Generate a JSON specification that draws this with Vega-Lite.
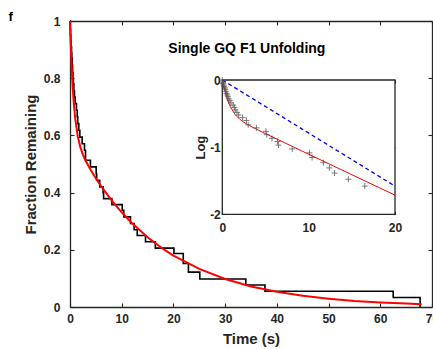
{
  "$schema": "https://vega.github.io/schema/vega-lite/v6.json",
  "width": 362,
  "height": 286,
  "autosize": {"type": "none"},
  "padding": {"left": 70, "top": 21, "right": 1, "bottom": 42},
  "background": "white",
  "config": {
    "view": {"stroke": null},
    "axis": {
      "grid": false,
      "labelFlush": false,
      "labelOverlap": false,
      "labelFont": "Liberation Sans",
      "titleFont": "Liberation Sans",
      "labelFontWeight": "bold",
      "titleFontWeight": "bold",
      "labelColor": "#262626",
      "titleColor": "#262626",
      "domainColor": "#262626",
      "tickColor": "#262626",
      "labelFontSize": 12,
      "titleFontSize": 15,
      "domainWidth": 1.3,
      "tickWidth": 1.1
    },
    "text": {"font": "Liberation Sans", "fontWeight": "bold", "color": "#000000"}
  },
  "datasets": {
    "steps": [
      {"t": 0, "f": 1.0}, {"t": 0.05, "f": 0.97}, {"t": 0.1, "f": 0.95}, {"t": 0.15, "f": 0.93},
      {"t": 0.2, "f": 0.91}, {"t": 0.3, "f": 0.89}, {"t": 0.35, "f": 0.87}, {"t": 0.42, "f": 0.845},
      {"t": 0.5, "f": 0.82}, {"t": 0.58, "f": 0.8}, {"t": 0.65, "f": 0.78}, {"t": 0.75, "f": 0.755},
      {"t": 0.87, "f": 0.734}, {"t": 1.0, "f": 0.711}, {"t": 1.25, "f": 0.688}, {"t": 1.4, "f": 0.665},
      {"t": 1.5, "f": 0.641}, {"t": 1.7, "f": 0.618}, {"t": 1.9, "f": 0.594}, {"t": 2.35, "f": 0.571},
      {"t": 2.8, "f": 0.548}, {"t": 3.0, "f": 0.513}, {"t": 3.95, "f": 0.49}, {"t": 5.06, "f": 0.466},
      {"t": 5.15, "f": 0.443}, {"t": 5.75, "f": 0.42}, {"t": 6.4, "f": 0.4}, {"t": 6.5, "f": 0.379},
      {"t": 8.1, "f": 0.358}, {"t": 10.1, "f": 0.338}, {"t": 10.4, "f": 0.315}, {"t": 11.7, "f": 0.292},
      {"t": 12.4, "f": 0.27}, {"t": 13.0, "f": 0.25}, {"t": 14.6, "f": 0.228}, {"t": 16.5, "f": 0.206},
      {"t": 20.1, "f": 0.187}, {"t": 21.9, "f": 0.152}, {"t": 22.9, "f": 0.122}, {"t": 25.1, "f": 0.098},
      {"t": 34.0, "f": 0.077}, {"t": 37.7, "f": 0.055}, {"t": 62.5, "f": 0.033}, {"t": 67.7, "f": 0.0}
    ],
    "fit": [
      {"t": 0, "f": 1.0}, {"t": 0.1, "f": 0.941}, {"t": 0.25, "f": 0.868}, {"t": 0.5, "f": 0.775},
      {"t": 0.75, "f": 0.708}, {"t": 1, "f": 0.66}, {"t": 1.5, "f": 0.597}, {"t": 2, "f": 0.559},
      {"t": 2.5, "f": 0.533}, {"t": 3, "f": 0.512}, {"t": 4, "f": 0.479}, {"t": 5, "f": 0.45},
      {"t": 6, "f": 0.423}, {"t": 8, "f": 0.374}, {"t": 10, "f": 0.331}, {"t": 12, "f": 0.293},
      {"t": 15, "f": 0.244}, {"t": 18, "f": 0.203}, {"t": 20, "f": 0.18}, {"t": 25, "f": 0.133},
      {"t": 30, "f": 0.098}, {"t": 35, "f": 0.072}, {"t": 40, "f": 0.053}, {"t": 45, "f": 0.039},
      {"t": 50, "f": 0.029}, {"t": 55, "f": 0.021}, {"t": 60, "f": 0.016}, {"t": 65, "f": 0.012},
      {"t": 68, "f": 0.01}
    ],
    "fitlog": [
      {"t": 0, "logf": 0}, {"t": 0.1, "logf": -0.061}, {"t": 0.25, "logf": -0.142}, {"t": 0.5, "logf": -0.255},
      {"t": 0.75, "logf": -0.345}, {"t": 1, "logf": -0.416}, {"t": 1.5, "logf": -0.516}, {"t": 2, "logf": -0.582},
      {"t": 2.5, "logf": -0.629}, {"t": 3, "logf": -0.669}, {"t": 4, "logf": -0.736}, {"t": 5, "logf": -0.799},
      {"t": 6, "logf": -0.86}, {"t": 8, "logf": -0.983}, {"t": 10, "logf": -1.105}, {"t": 12, "logf": -1.227},
      {"t": 15, "logf": -1.41}, {"t": 18, "logf": -1.593}, {"t": 20, "logf": -1.715}
    ],
    "points": [
      {"t": 0, "logf": 0}, {"t": 0.05, "logf": -0.031}, {"t": 0.1, "logf": -0.051}, {"t": 0.15, "logf": -0.073},
      {"t": 0.2, "logf": -0.094}, {"t": 0.3, "logf": -0.117}, {"t": 0.35, "logf": -0.139}, {"t": 0.42, "logf": -0.168},
      {"t": 0.5, "logf": -0.199}, {"t": 0.58, "logf": -0.223}, {"t": 0.65, "logf": -0.249}, {"t": 0.75, "logf": -0.281},
      {"t": 0.87, "logf": -0.309}, {"t": 1.0, "logf": -0.341}, {"t": 1.25, "logf": -0.374}, {"t": 1.4, "logf": -0.408},
      {"t": 1.5, "logf": -0.445}, {"t": 1.7, "logf": -0.481}, {"t": 1.9, "logf": -0.521}, {"t": 2.35, "logf": -0.56},
      {"t": 2.8, "logf": -0.602}, {"t": 3.0, "logf": -0.668}, {"t": 3.95, "logf": -0.713}, {"t": 5.06, "logf": -0.764},
      {"t": 5.15, "logf": -0.814}, {"t": 5.75, "logf": -0.868}, {"t": 6.4, "logf": -0.916}, {"t": 6.5, "logf": -0.97},
      {"t": 8.1, "logf": -1.027}, {"t": 10.1, "logf": -1.085}, {"t": 10.4, "logf": -1.155}, {"t": 11.7, "logf": -1.231},
      {"t": 12.4, "logf": -1.309}, {"t": 13.0, "logf": -1.386}, {"t": 14.6, "logf": -1.478}, {"t": 16.5, "logf": -1.58}
    ],
    "blue": [
      {"t": 0, "y": 0}, {"t": 20, "y": -1.58}
    ]
  },
  "layer": [
    {
      "layer": [
        {
          "data": {"name": "steps"},
          "mark": {"type": "line", "interpolate": "step-after", "color": "#000000", "strokeWidth": 1.6},
          "encoding": {
            "x": {"field": "t", "type": "quantitative", "scale": {"domain": [0, 70], "nice": false},
              "axis": {"orient": "bottom", "values": [0, 10, 20, 30, 40, 50, 60, 70], "title": "Time (s)", "tickSize": -4, "labelPadding": 10, "titlePadding": 7}},
            "y": {"field": "f", "type": "quantitative", "scale": {"domain": [0, 1], "nice": false},
              "axis": {"orient": "left", "values": [0, 0.2, 0.4, 0.6, 0.8, 1], "format": "~g", "title": "Fraction Remaining", "tickSize": -4, "labelPadding": 14, "titlePadding": 5}}
          }
        },
        {
          "data": {"name": "fit"},
          "mark": {"type": "line", "color": "#FF0000", "strokeWidth": 2},
          "encoding": {
            "x": {"field": "t", "type": "quantitative", "scale": {"domain": [0, 70], "nice": false},
              "axis": {"orient": "top", "values": [0, 10, 20, 30, 40, 50, 60, 70], "labels": false, "title": null, "tickSize": -4}},
            "y": {"field": "f", "type": "quantitative", "scale": {"domain": [0, 1], "nice": false},
              "axis": {"orient": "right", "values": [0, 0.2, 0.4, 0.6, 0.8, 1], "labels": false, "title": null, "tickSize": -4}}
          }
        },
        {
          "data": {"values": [{}]},
          "mark": {"type": "text", "text": "Single GQ F1 Unfolding", "fontSize": 14, "align": "center", "baseline": "alphabetic"},
          "encoding": {
            "x": {"datum": 34.2, "type": "quantitative", "scale": {"domain": [0, 70], "nice": false}, "axis": null},
            "y": {"datum": 0.887, "type": "quantitative", "scale": {"domain": [0, 1], "nice": false}, "axis": null}
          }
        },
        {
          "data": {"values": [{}]},
          "mark": {"type": "text", "text": "f", "fontSize": 13, "align": "left", "baseline": "alphabetic"},
          "encoding": {
            "x": {"datum": -11.9, "type": "quantitative", "scale": {"domain": [0, 70], "nice": false}, "axis": null},
            "y": {"datum": 1.0, "type": "quantitative", "scale": {"domain": [0, 1], "nice": false}, "axis": null}
          }
        }
      ],
      "resolve": {"axis": {"x": "independent", "y": "independent"}}
    },
    {
      "layer": [
        {
          "data": {"values": [{}]},
          "mark": {"type": "rect", "fill": "#FFFFFF", "stroke": "#262626", "strokeWidth": 1.3},
          "encoding": {
            "x": {"datum": 0, "type": "quantitative", "scale": {"domain": [0, 20], "nice": false, "range": [152.3, 325]}, "axis": null},
            "x2": {"datum": 20},
            "y": {"datum": -2, "type": "quantitative", "scale": {"domain": [-2, 0], "nice": false, "range": [193.3, 59]}, "axis": null},
            "y2": {"datum": 0}
          }
        },
        {
          "data": {"name": "blue"},
          "mark": {"type": "line", "color": "#0000FF", "strokeWidth": 1.3, "strokeDash": [4, 3]},
          "encoding": {
            "x": {"field": "t", "type": "quantitative", "scale": {"domain": [0, 20], "nice": false, "range": [152.3, 325]}, "axis": null},
            "y": {"field": "y", "type": "quantitative", "scale": {"domain": [-2, 0], "nice": false, "range": [193.3, 59]}, "axis": null}
          }
        },
        {
          "data": {"name": "fitlog"},
          "mark": {"type": "line", "color": "#FF0000", "strokeWidth": 1},
          "encoding": {
            "x": {"field": "t", "type": "quantitative", "scale": {"domain": [0, 20], "nice": false, "range": [152.3, 325]},
              "axis": {"orient": "top", "offset": -59, "values": [0, 10, 20], "labels": false, "title": null, "tickSize": -3, "domain": false}},
            "y": {"field": "logf", "type": "quantitative", "scale": {"domain": [-2, 0], "nice": false, "range": [193.3, 59]},
              "axis": {"orient": "right", "offset": -37, "values": [0, -1, -2], "labels": false, "title": null, "tickSize": -3, "domain": false}}
          }
        },
        {
          "data": {"name": "points"},
          "mark": {"type": "point", "shape": "M-1,0L1,0M0,-1L0,1", "size": 36, "filled": false, "stroke": "#555555", "strokeWidth": 0.9, "opacity": 0.85},
          "encoding": {
            "x": {"field": "t", "type": "quantitative", "scale": {"domain": [0, 20], "nice": false, "range": [152.3, 325]},
              "axis": {"orient": "bottom", "offset": -92.7, "values": [0, 10, 20], "title": null, "tickSize": -3, "labelPadding": 11, "domain": false}},
            "y": {"field": "logf", "type": "quantitative", "scale": {"domain": [-2, 0], "nice": false, "range": [193.3, 59]},
              "axis": {"orient": "left", "offset": -152.3, "values": [0, -1, -2], "title": "Log", "titleFontSize": 13, "tickSize": -3, "labelPadding": 5, "titlePadding": 2, "domain": false,
                "labelExpr": "datum.value < 0 ? '-' + abs(datum.value) : '' + datum.value"}}
          }
        }
      ],
      "resolve": {"axis": {"x": "independent", "y": "independent"}}
    }
  ],
  "resolve": {"scale": {"x": "independent", "y": "independent"}, "axis": {"x": "independent", "y": "independent"}}
}
